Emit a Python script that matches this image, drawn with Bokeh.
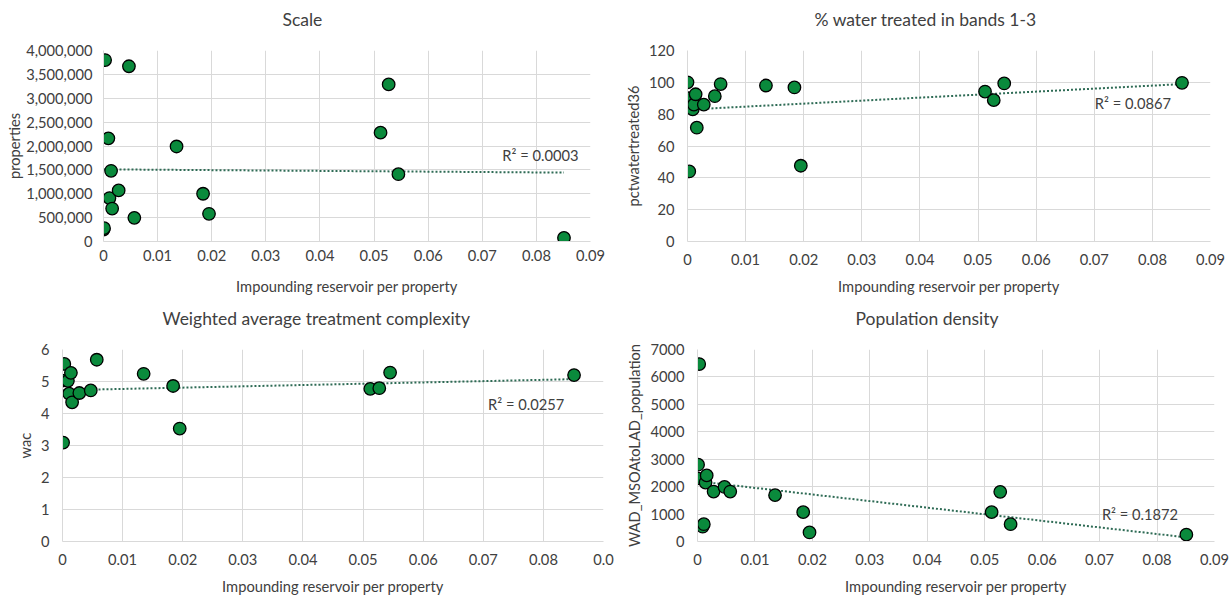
import numpy as np
from bokeh.plotting import figure
from bokeh.layouts import column, row
from bokeh.models import FixedTicker, NumeralTickFormatter, Label, Title
from bokeh.embed import file_html
from bokeh.resources import INLINE

# ---------------- data ----------------
reservoir_per_property = [0.0000, 0.0001, 0.0003, 0.0009, 0.0011, 0.0014, 0.0016,
                          0.0028, 0.0047, 0.0057, 0.0135, 0.0184, 0.0195,
                          0.0512, 0.0527, 0.0545, 0.0851]
properties = [250000, 280000, 3800000, 2160000, 910000, 1480000, 690000,
              1070000, 3670000, 495000, 1990000, 1000000, 580000,
              2280000, 3290000, 1410000, 76000]
pctwatertreated36 = [100, 90, 44, 83, 86, 92.5, 71.5,
                     86, 91.3, 98.9, 98, 96.8, 47.6,
                     94.2, 88.8, 99.3, 99.7]
wac = [5.03, 3.09, 5.55, 5.02, 4.62, 5.27, 4.35,
       4.64, 4.72, 5.68, 5.24, 4.86, 3.53,
       4.77, 4.79, 5.28, 5.20]
population = [2300, 2800, 6470, 540, 630, 2150, 2410,
              1820, 1990, 1820, 1690, 1070, 330,
              1070, 1810, 630, 250]

titles = ["Scale", "% water treated in bands 1-3",
          "Weighted average treatment complexity", "Population density"]
y_labels = ["properties", "pctwatertreated36", "wac", "WAD_MSOAtoLAD_population"]
x_label = "Impounding reservoir per property"
r_squared = ["0.0003", "0.0867", "0.0257", "0.1872"]

x_ticks = [0, 0.01, 0.02, 0.03, 0.04, 0.05, 0.06, 0.07, 0.08, 0.09]
x_tick_labels = ["0", "0.01", "0.02", "0.03", "0.04", "0.05", "0.06", "0.07", "0.08", "0.09"]
x_tick_labels_cut = ["0", "0.01", "0.02", "0.03", "0.04", "0.05", "0.06", "0.07", "0.08", "0.0"]
y_ticks_properties = [0, 500000, 1000000, 1500000, 2000000, 2500000, 3000000, 3500000, 4000000]
y_ticks_pct = [0, 20, 40, 60, 80, 100, 120]
y_ticks_wac = [0, 1, 2, 3, 4, 5, 6]
y_ticks_pop = [0, 1000, 2000, 3000, 4000, 5000, 6000, 7000]

FONT = "Lato"
TEXT = "#404040"
GRID = "#d9d9d9"
GREEN = "#0a8a3c"
TREND = "#2e6b55"


def panel(width, height, borders, title, title_offset, ylab, ys, yticks, xlabels,
          r2, r2_xy, tick_sd, label_sd, y_sd=(13, 4), yfmt=None):
    l, r, t, b = borders
    p = figure(width=width, height=height, output_backend="svg", toolbar_location=None,
               x_range=(0, x_ticks[-1]), y_range=(0, yticks[-1]),
               min_border_left=l, min_border_right=r, min_border_top=t, min_border_bottom=b)
    p.outline_line_color = None
    p.background_fill_color = "white"
    p.border_fill_color = "white"

    # spacer between the plot area and the chart title
    p.add_layout(Title(text=" ", text_font_size="1px", standoff=18), "above")
    p.title.text = title
    p.title.align = "left"
    p.title.offset = title_offset
    p.title.standoff = 0
    p.title.text_font = FONT
    p.title.text_font_size = "17.5px"
    p.title.text_font_style = "normal"
    p.title.text_color = TEXT

    p.xaxis.ticker = FixedTicker(ticks=x_ticks)
    p.xaxis.major_label_overrides = {tv: lab for tv, lab in zip(x_ticks, xlabels)}
    p.yaxis.ticker = FixedTicker(ticks=yticks)
    if yfmt is not None:
        p.yaxis.formatter = yfmt
    for ax in (p.xaxis, p.yaxis):
        ax.axis_line_color = GRID
        ax.major_tick_line_color = None
        ax.minor_tick_line_color = None
        ax.major_tick_out = 0
        ax.major_tick_in = 0
        ax.minor_tick_out = 0
        ax.major_label_text_font = FONT
        ax.major_label_text_font_size = "14.7px"
        ax.major_label_text_color = TEXT
        ax.axis_label_text_font = FONT
        ax.axis_label_text_font_size = "14.7px"
        ax.axis_label_text_font_style = "normal"
        ax.axis_label_text_color = TEXT
    p.xaxis.axis_label = x_label
    p.yaxis.axis_label = ylab
    p.xaxis.major_label_standoff = tick_sd
    p.xaxis.axis_label_standoff = label_sd
    p.yaxis.major_label_standoff = y_sd[0]
    p.yaxis.axis_label_standoff = y_sd[1]
    p.xgrid.ticker = FixedTicker(ticks=x_ticks)
    p.ygrid.ticker = FixedTicker(ticks=yticks)
    p.xgrid.grid_line_color = GRID
    p.ygrid.grid_line_color = GRID

    xs = np.array(reservoir_per_property)
    yv = np.array(ys, dtype=float)
    slope, intercept = np.polyfit(xs, yv, 1)
    tx = np.array([xs.min(), xs.max()])
    p.line(tx, slope * tx + intercept, line_color=TREND, line_width=2, line_dash="2 2")
    p.scatter(xs, yv, size=12.5, fill_color=GREEN, line_color="black", line_width=1.3)

    p.add_layout(Label(x=r2_xy[0], y=r2_xy[1], text="R\u00b2 = " + r2,
                       text_font=FONT, text_font_size="14.7px", text_color=TEXT,
                       text_baseline="middle", text_align="left"))
    return p


p1 = panel(620, 300, (103, 30, 47, 59), titles[0], 179, y_labels[0], properties,
           y_ticks_properties, x_tick_labels, r_squared[0], (0.0737, 1810000), 8, 13,
           y_sd=(11, 0), yfmt=NumeralTickFormatter(format="0,0"))
p2 = panel(610, 300, (66, 20, 50, 55), titles[1], 127, y_labels[1], pctwatertreated36,
           y_ticks_pct, x_tick_labels, r_squared[1], (0.0701, 86.8), 12, 9)
p3 = panel(620, 300, (62, 17, 46, 59), titles[2], 100, y_labels[2], wac,
           y_ticks_wac, x_tick_labels_cut, r_squared[2], (0.0708, 4.30), 12, 9)
p4 = panel(610, 300, (77, 16, 49, 55), titles[3], 158, y_labels[3], population,
           y_ticks_pop, x_tick_labels, r_squared[3], (0.0704, 990), 12, 9)

layout = column(row(p1, p2, spacing=0), row(p3, p4, spacing=0), spacing=0)
open("out.html", "w").write(file_html(layout, INLINE))
